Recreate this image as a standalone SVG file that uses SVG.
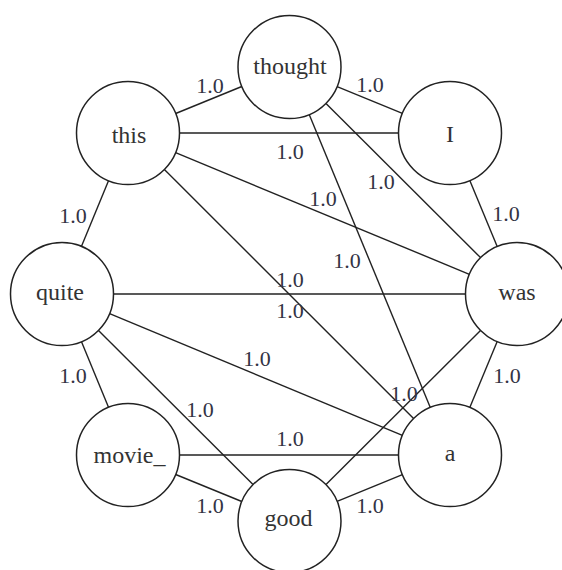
<svg xmlns="http://www.w3.org/2000/svg" width="562" height="570" viewBox="0 0 562 570">
  <style>
    .node circle { fill: #ffffff; stroke: #222222; stroke-width: 1.5; }
    .node text { font-family: "Liberation Serif", "DejaVu Serif", serif; font-size: 24px; fill: #333333; text-anchor: middle; }
    #edges line { stroke: #222222; stroke-width: 1.4; }
    #edge-labels text { font-family: "Liberation Serif", "DejaVu Serif", serif; font-size: 22px; fill: #333344; text-anchor: middle; }
  </style>
  <rect width="562" height="570" fill="#ffffff"/>

  <!-- connectors, trimmed to the circle outlines (r = 51.5) -->
  <g id="edges">
    <line x1="175.7" y1="113.5" x2="241.8" y2="86.5"/>   <!-- this - thought -->
    <line x1="337.1" y1="86.6" x2="402.4" y2="113.4"/>   <!-- thought - I -->
    <line x1="179.5" y1="133" x2="398.5" y2="133"/>      <!-- this - I -->
    <line x1="175.6" y1="152.7" x2="469.4" y2="274.3"/>  <!-- this - was -->
    <line x1="164.4" y1="169.4" x2="413.6" y2="418.6"/>  <!-- this - a -->
    <line x1="326" y1="103.4" x2="480.5" y2="257.6"/>    <!-- thought - was -->
    <line x1="309.2" y1="114.6" x2="430.3" y2="407.4"/>  <!-- thought - a -->
    <line x1="469.8" y1="180.5" x2="497.2" y2="246.5"/>  <!-- I - was -->
    <line x1="113.5" y1="294" x2="465.5" y2="294"/>      <!-- quite - was -->
    <line x1="108.5" y1="180.7" x2="81.5" y2="246.3"/>   <!-- this - quite -->
    <line x1="109.6" y1="313.7" x2="402.4" y2="435.3"/>  <!-- quite - a -->
    <line x1="81.5" y1="341.7" x2="108.5" y2="407.3"/>   <!-- quite - movie_ -->
    <line x1="98.5" y1="330.4" x2="253" y2="484.6"/>     <!-- quite - good -->
    <line x1="179.5" y1="455" x2="398.5" y2="455"/>      <!-- movie_ - a -->
    <line x1="175.7" y1="474.5" x2="241.8" y2="501.5"/>  <!-- movie_ - good -->
    <line x1="337.1" y1="501.4" x2="402.4" y2="474.6"/>  <!-- good - a -->
    <line x1="326" y1="484.6" x2="480.5" y2="330.4"/>    <!-- good - was -->
    <line x1="497.2" y1="341.5" x2="469.8" y2="407.5"/>  <!-- was - a -->
  </g>

  <!-- edge weights -->
  <g id="edge-labels">
    <text x="210" y="93">1.0</text>
    <text x="370" y="92">1.0</text>
    <text x="290" y="159">1.0</text>
    <text x="381" y="189">1.0</text>
    <text x="323" y="206">1.0</text>
    <text x="73" y="223">1.0</text>
    <text x="506" y="221">1.0</text>
    <text x="347" y="268">1.0</text>
    <text x="290" y="287">1.0</text>
    <text x="290" y="318">1.0</text>
    <text x="257" y="366">1.0</text>
    <text x="73" y="383">1.0</text>
    <text x="507" y="383">1.0</text>
    <text x="404" y="401">1.0</text>
    <text x="200" y="417">1.0</text>
    <text x="290" y="446">1.0</text>
    <text x="210" y="513">1.0</text>
    <text x="370" y="513">1.0</text>
  </g>

  <!-- word nodes -->
  <g id="node-thought" class="node">
    <circle cx="289.5" cy="67" r="51.5"/>
    <text x="290" y="73.5">thought</text>
  </g>
  <g id="node-I" class="node">
    <circle cx="450" cy="133" r="51.5"/>
    <text x="450" y="141.5">I</text>
  </g>
  <g id="node-was" class="node">
    <circle cx="517" cy="294" r="51.5"/>
    <text x="517" y="299.5">was</text>
  </g>
  <g id="node-a" class="node">
    <circle cx="450" cy="455" r="51.5"/>
    <text x="450" y="461">a</text>
  </g>
  <g id="node-good" class="node">
    <circle cx="289.5" cy="521" r="51.5"/>
    <text x="288.5" y="525.5">good</text>
  </g>
  <g id="node-movie" class="node">
    <circle cx="128" cy="455" r="51.5"/>
    <text x="129.5" y="462.5">movie_</text>
  </g>
  <g id="node-quite" class="node">
    <circle cx="62" cy="294" r="51.5"/>
    <text x="60" y="300">quite</text>
  </g>
  <g id="node-this" class="node">
    <circle cx="128" cy="133" r="51.5"/>
    <text x="129" y="142.5">this</text>
  </g>
</svg>
